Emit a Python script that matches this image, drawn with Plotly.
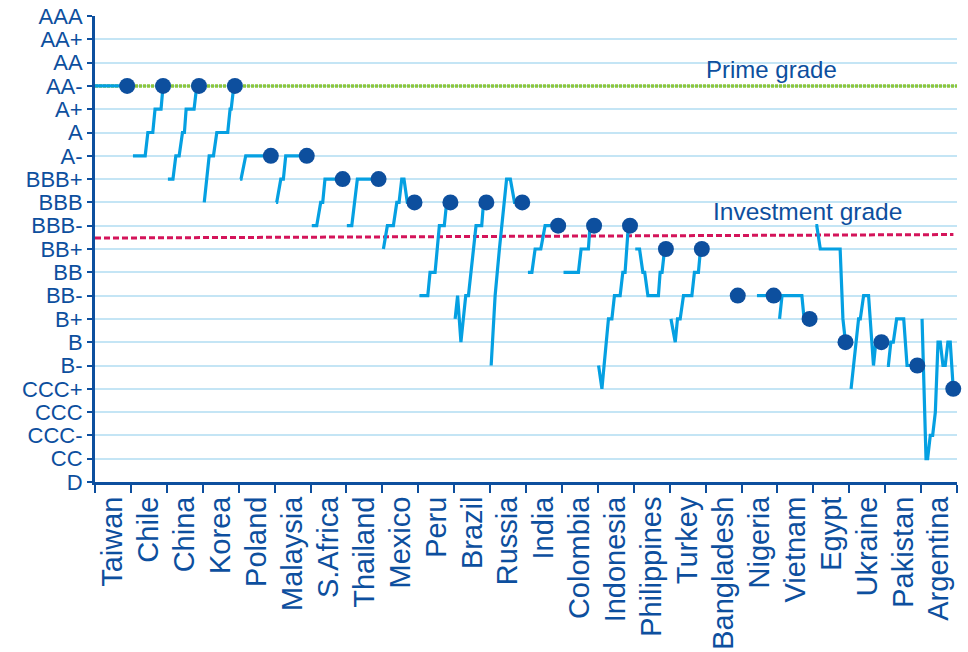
import plotly.graph_objects as go

# ---------------- data ----------------
RATINGS = ["D", "CC", "CCC-", "CCC", "CCC+", "B-", "B", "B+", "BB-", "BB", "BB+",
           "BBB-", "BBB", "BBB+", "A-", "A", "A+", "AA-", "AA", "AA+", "AAA"]

COUNTRIES = ["Taiwan", "Chile", "China", "Korea", "Poland", "Malaysia", "S.Africa",
             "Thailand", "Mexico", "Peru", "Brazil", "Russia", "India", "Colombia",
             "Indonesia", "Philippines", "Turkey", "Bangladesh", "Nigeria", "Vietnam",
             "Egypt", "Ukraine", "Pakistan", "Argentina"]

# rating history per country: (year, rating); last entry = current rating
taiwan = [(1988.0, "AA-"), (2018, "AA-")]
chile = [(1989.9, "A-"), (2001.3, "A-"), (2003.8, "A"), (2008.4, "A"), (2010.5, "A+"),
         (2016.1, "A+"), (2018, "AA-")]
china = [(1989.0, "BBB+"), (1993.7, "BBB+"), (1996.4, "A-"), (1999.5, "A-"), (2002.6, "A"),
         (2004.4, "A"), (2006.0, "A+"), (2013.4, "A+"), (2015.9, "AA-"), (2018, "AA-")]
korea = [(1989.4, "BBB"), (1994.0, "A-"), (1998.0, "A-"), (2001.1, "A"), (2011.3, "A"),
         (2013.5, "A+"), (2014.5, "A+"), (2017.0, "AA-"), (2018, "AA-")]
poland = [(1989.3, "BBB+"), (1990.2, "BBB+"), (1994.6, "A-"), (2018, "A-")]
malaysia = [(1989.4, "BBB"), (1990.0, "BBB"), (1993.8, "BBB+"), (1996.2, "BBB+"),
            (1998.4, "A-"), (2018, "A-")]
s_africa = [(1989.2, "BBB-"), (1993.8, "BBB-"), (1997.5, "BBB"), (1999.4, "BBB"),
            (2001.5, "BBB+"), (2018, "BBB+")]
thailand = [(1988.4, "BBB-"), (1993.0, "BBB-"), (1998.2, "BBB+"), (2018, "BBB+")]
mexico = [(1989.0, "BB+"), (1992.7, "BBB-"), (1998.3, "BBB-"), (2001.5, "BBB"), (2003.6, "BBB"),
          (2006.1, "BBB+"), (2008.2, "BBB+"), (2011.3, "BBB"), (2018, "BBB")]
peru = [(1989.1, "BB-"), (1996.9, "BB-"), (1999.0, "BB"), (2003.7, "BB"), (2007.7, "BBB-"),
        (2012.3, "BBB-"), (2014.5, "BBB"), (2018, "BBB")]
brazil = [(1988.9, "B+"), (1991.2, "BB-"), (1994.3, "B"), (1998.8, "BB-"), (2001.3, "BB-"),
          (2008.4, "BBB-"), (2013.7, "BBB-"), (2015.4, "BBB"), (2018, "BBB")]
russia = [(1989.0, "B-"), (1992.7, "BB-"), (1996.7, "BB+"), (2003.4, "BBB+"), (2006.9, "BBB+"),
          (2010.8, "BBB"), (2018, "BBB")]
india = [(1989.8, "BB"), (1993.5, "BB"), (1996.5, "BB+"), (2001.8, "BB+"), (2005.8, "BBB-"),
         (2018, "BBB-")]
colombia = [(1989.5, "BB"), (2003.4, "BB"), (2005.9, "BB+"), (2012.7, "BB+"), (2014.2, "BBB-"),
            (2018, "BBB-")]
indonesia = [(1988.7, "B-"), (1991.8, "CCC+"), (1997.9, "B+"), (2001.1, "B+"), (2003.5, "BB-"),
             (2008.8, "BB-"), (2011.3, "BB"), (2013.4, "BB"), (2016.5, "BBB-"), (2018, "BBB-")]
philippines = [(1989.4, "BB+"), (1993.4, "BB+"), (1996.5, "BB"), (1998.2, "BB"), (2001.2, "BB-"),
               (2011.0, "BB-"), (2012.6, "BB"), (2014.4, "BB"), (2016.8, "BB+"), (2018, "BB+")]
turkey = [(1989.2, "B+"), (1993.2, "B"), (1995.3, "B+"), (1997.8, "B+"), (2000.9, "BB-"),
          (2008.7, "BB-"), (2011.1, "BB"), (2014.8, "BB"), (2016.8, "BB+"), (2018, "BB+")]
bangladesh = [(2018, "BB-")]
nigeria = [(2002.4, "BB-"), (2018, "BB-")]
vietnam = [(1990.0, "B+"), (1992.3, "BB-"), (2010.8, "BB-"), (2012.9, "B+"), (2018, "B+")]
egypt = [(1989.9, "BBB-"), (1991.2, "BBB-"), (1994.5, "BB+"), (2013.0, "BB+"), (2015.6, "B+"),
         (2018, "B")]
ukraine = [(1989.7, "CCC+"), (1996.7, "B+"), (1998.3, "B+"), (2001.4, "BB-"), (2006.0, "BB-"),
           (2010.6, "B-"), (2012.8, "B"), (2018, "B")]
pakistan = [(1989.6, "B-"), (1991.0, "B-"), (1993.3, "B"), (1995.6, "B"), (1998.7, "B+"),
            (2005.3, "B+"), (2008.4, "B-"), (2018, "B-")]
argentina = [(1988.9, "B+"), (1992.6, "CC"), (1994.1, "CC"), (1996.6, "CCC-"), (1998.8, "CCC-"),
             (2001.3, "CCC"), (2003.8, "B"), (2005.9, "B"), (2008.4, "B-"), (2010.5, "B-"),
             (2013.0, "B"), (2015.2, "B"), (2018, "CCC+")]

HISTORIES = [taiwan, chile, china, korea, poland, malaysia, s_africa, thailand, mexico, peru,
             brazil, russia, india, colombia, indonesia, philippines, turkey, bangladesh,
             nigeria, vietnam, egypt, ukraine, pakistan, argentina]

PRIME_GRADE = "AA-"
INVESTMENT_GRADE_LEVEL = [10.47, 10.62]   # threshold line as drawn (left end, right end)

YEAR0, YEAR_SPAN = 1988.0, 33.5

# ---------------- styles ----------------
DARK = "#0d4f9e"
LINE = "#05a0e2"
GRID = "#c4e5f5"
RED = "#d4145a"
GREEN = "#8cc63f"
FONT = "Liberation Sans, Arial, sans-serif"

LEVEL = {r: k for k, r in enumerate(RATINGS)}
N = len(COUNTRIES)


def xpos(i, year):
    return i + (year - YEAR0) / YEAR_SPAN


fig = go.Figure()

# reference lines
fig.add_trace(go.Scatter(x=[0, N + 0.1], y=[LEVEL[PRIME_GRADE]] * 2, mode="lines",
                         line=dict(color=GREEN, width=3.5, dash="3px,1px"),
                         hoverinfo="skip", cliponaxis=False))
fig.add_trace(go.Scatter(x=[0, N - 0.1], y=INVESTMENT_GRADE_LEVEL, mode="lines",
                         line=dict(color=RED, width=3, dash="6px,3px"),
                         hoverinfo="skip"))

# rating histories
for i, (name, hist) in enumerate(zip(COUNTRIES, HISTORIES)):
    if len(hist) < 2:
        continue
    fig.add_trace(go.Scatter(
        x=[xpos(i, yr) for yr, _ in hist],
        y=[LEVEL[r] for _, r in hist],
        mode="lines", line=dict(color=LINE, width=3.2),
        name=name, hoverinfo="skip", cliponaxis=False))

# current ratings
fig.add_trace(go.Scatter(
    x=[xpos(i, h[-1][0]) for i, h in enumerate(HISTORIES)],
    y=[LEVEL[h[-1][1]] for h in HISTORIES],
    mode="markers", marker=dict(color=DARK, size=16),
    cliponaxis=False, hoverinfo="skip"))

fig.add_annotation(x=18.83, y=17.72, text="Prime grade", showarrow=False,
                   font=dict(size=24, color=DARK, family=FONT))
fig.add_annotation(x=19.84, y=11.59, text="Investment grade", showarrow=False,
                   font=dict(size=24.5, color=DARK, family=FONT))

fig.update_layout(
    width=968, height=652,
    margin=dict(l=95, r=11, t=16, b=170, autoexpand=False),
    paper_bgcolor="white", plot_bgcolor="white",
    showlegend=False,
    font=dict(family=FONT, color=DARK),
    xaxis=dict(range=[0, N], tickmode="array", automargin=False,
               tickvals=[i + 0.5 for i in range(N)], ticktext=COUNTRIES,
               tickangle=-90, ticks="", showgrid=False, zeroline=False,
               showline=True, linecolor=DARK, linewidth=3,
               ticklabeloverflow="allow",
               tickfont=dict(size=29, color=DARK),
               minor=dict(tickmode="array", tickvals=list(range(N + 1)),
                          ticks="outside", ticklen=8, tickwidth=2,
                          tickcolor=DARK, showgrid=False)),
    yaxis=dict(range=[0, len(RATINGS) - 1], tickmode="array", automargin=False,
               tickvals=list(range(len(RATINGS))), ticktext=RATINGS,
               ticks="outside", ticklen=5, tickwidth=2, tickcolor=DARK,
               showline=True, linecolor=DARK, linewidth=3,
               ticklabeloverflow="allow",
               showgrid=True, gridcolor=GRID, gridwidth=1.5, zeroline=False,
               tickfont=dict(size=22, color=DARK)),
)

# remove the browser's default body margin so the figure fills the window exactly
fig.write_html("out.html",
               config={"displayModeBar": False},
               post_script="document.body.style.margin='0';"
                           "document.body.style.overflow='hidden';")
